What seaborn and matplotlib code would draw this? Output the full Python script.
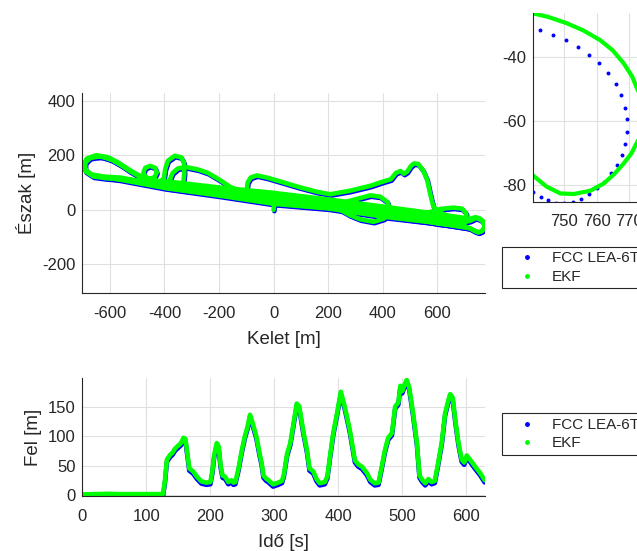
import numpy as np
import pandas as pd
import matplotlib
matplotlib.use('Agg')
import matplotlib.pyplot as plt
import matplotlib.transforms as mtransforms
from matplotlib.lines import Line2D
import seaborn as sns

sns.set_theme(style='white')
plt.rcParams['font.family'] = ['Liberation Sans', 'DejaVu Sans']
plt.rcParams['axes.unicode_minus'] = False

BLUE = '#0000ff'
GREEN = '#00ff00'
INK = '#262626'

# ---------------- trajectory passes (Kelet / Észak, m) ----------------
pass1_x = [0, 2, 10, 200, 400, 600, 690, 721, 740, 756, 768, 774.5, 772, 764, 752, 740, 721, 700,
           600, 400, 200, 0, -200, -400, -560, -620, -665, -690, -695, -685, -660, -625, -590,
           -555, -520, -480, -400, -200, 0, 200, 400, 600]
pass1_y = [0, 18, 42, 20, -5, -32, -38, -33, -27, -32, -42, -58, -68, -77, -83, -78, -68, -64,
           -48, -25, 5, 22, 52, 80, 110, 120, 128, 145, 165, 185, 196, 194, 182,
           162, 140, 120, 100, 75, 52, 28, 5, -22]

pass2_x = [560, 611, 660, 691, 706, 708, 697, 670, 624, 560, 400, 200, 0, -200, -400, -560, -625,
           -670, -690, -690, -672, -635, -598, -562, -527, -495, -474, -454, -436, -428, -434,
           -452, -470, -477, -470, -454, -420, -400, -200, 0, 200, 400, 600, 700]
pass2_y = [-12, 3, 8, 4, -12, -35, -52, -58, -45, -38, -15, 12, 32, 60, 88, 118, 122,
           130, 150, 172, 190, 196, 186, 166, 142, 124, 116, 113, 120, 137, 154,
           161, 154, 137, 120, 113, 103, 105, 82, 62, 38, 12, -15, -30]

pass3_x = [700, 721, 742, 758, 768, 773, 770, 762, 750, 738, 720, 690, 600, 400, 200, 0, -200,
           -400, -420, -402, -397, -387, -362, -338, -328, -327, -331, -335, -200, 0, 200, 400,
           600, 700]
pass3_y = [-45, -40, -30, -36, -45, -58, -70, -79, -82, -78, -68, -60, -50, -5, 20, 42, 68,
           95, 100, 115, 150, 180, 198, 192, 172, 135, 95, 72, 60, 32, 12, -15,
           -40, -58]

pass4_x = [700, 600, 400, 200, 0, -200, -390, -380, -370, -350, -318, -278, -240, -195, -159,
           -110, -24, 100, 200, 300, 400, 600, 700]
pass4_y = [-40, -22, 5, 28, 52, 75, 90, 110, 135, 152, 156, 148, 135, 108, 84,
           64, 46, 30, 20, 8, -2, -28, -45]

pass5_x = [650, 600, 585, 575, 563, 548, 530, 515, 503, 490, 478, 465, 448, 430, 400, 355, 281,
           208, 159, 98, 37, -24, -61, -84, -95, -97, -110, -200, -300, -400, -500, -560, -615,
           -660, -688, -697, -684, -650, -608, -572, -537, -500, -440, -391, -195, 0, 208, 400,
           600, 700]
pass5_y = [-28, -5, 15, 55, 110, 145, 168, 170, 160, 140, 132, 142, 135, 112, 103, 88, 70,
           57, 66, 82, 100, 118, 126, 118, 100, 80, 62, 62, 75, 92, 108, 112, 116,
           122, 140, 165, 188, 200, 193, 175, 152, 128, 103, 80, 55, 24, 6, -22,
           -48, -64]

pass6_x = [-400, -200, 0, 150, 200, 257, 306, 355, 391, 418, 426, 405, 367, 318, 281, 245, 300,
           400, 600, 700]
pass6_y = [85, 58, 30, 18, 15, 27, 40, 53, 48, 28, 0, -32, -44, -35, -20, 0, -8,
           -18, -42, -58]

# ---------------- zoomed detail (east end turn) ----------------
zoom_gps_x = [742.6, 746.6, 750.6, 754.3, 757.6, 760.7, 763.5, 765.9, 767.7, 768.8, 769.4, 769.5,
              768.8, 767.8, 766.3, 764.4, 762.4, 760.1, 757.6, 755.2, 752.7, 750.0, 747.5, 745.1,
              742.8, 740.3]
zoom_gps_y = [-31.4, -33.0, -34.7, -36.9, -39.2, -41.9, -44.8, -48.4, -51.8, -55.7, -59.4, -63.4,
              -67.2, -70.6, -73.6, -76.3, -79.0, -81.0, -82.9, -84.4, -85.2, -85.5, -85.5, -84.7,
              -83.7, -82.1]
zoom_ekf_x = [736.0, 740.3, 745.0, 750.8, 756.0, 761.1, 765.0, 768.4, 771.0, 772.8, 774.2, 774.7,
              774.2, 772.8, 770.8, 768.4, 765.5, 762.2, 758.0, 752.9, 748.8, 744.6, 740.3, 737.0]
zoom_ekf_y = [-25.0, -26.2, -27.3, -29.3, -31.6, -34.6, -37.8, -41.9, -46.0, -50.5, -55.0, -58.5,
              -62.0, -66.0, -70.0, -73.2, -76.5, -79.5, -81.8, -82.8, -82.6, -80.5, -76.9, -73.5]

# ---------------- altitude vs time ----------------
ido = [0, 20, 40, 60, 80, 100, 120, 126, 129, 132, 137, 141, 145, 150, 154, 158, 161, 164, 167,
       173, 179, 186, 194, 200, 203, 206, 210, 213, 216, 219, 223, 228, 233, 236, 239, 244, 249,
       254, 258, 262, 266, 272, 277, 280, 283, 287, 291, 298, 306, 312, 315, 320, 325, 330, 335,
       339, 345, 351, 355, 361, 366, 371, 379, 383, 387, 392, 398, 404, 410, 418, 426, 431, 437,
       445, 450, 457, 463, 468, 473, 478, 484, 489, 494, 497, 500, 504, 507, 511, 517, 523, 527,
       531, 536, 541, 546, 551, 556, 562, 567, 572, 575, 579, 583, 588, 593, 597, 601, 606, 614,
       622, 629]
fel = [1, 1.5, 2, 1.5, 1.5, 1.5, 1.5, 2, 25, 60, 68, 72, 79, 84, 88, 97, 95, 70, 45,
       40, 31, 23, 21, 22, 40, 68, 88, 82, 50, 33, 31, 22, 25, 21, 22, 45, 75,
       100, 115, 136, 122, 99, 70, 55, 33, 28, 25, 18, 21, 24, 35, 70, 88, 121, 155,
       150, 110, 76, 45, 40, 27, 20, 22, 32, 65, 104, 138, 175, 150, 110, 59, 52, 48,
       37, 26, 20, 21, 48, 76, 97, 105, 150, 157, 185, 176, 188, 195, 182, 138, 88, 33,
       26, 20, 27, 22, 24, 53, 90, 138, 160, 171, 165, 127, 88, 60, 55, 67, 60, 48,
       37, 25]

LEG_LABELS = ['FCC LEA-6T', 'EKF']

# ---------------- figure ----------------
W, H = 637, 551
fig = plt.figure(figsize=(W / 100, H / 100), dpi=100)


def fax(l, t, r, b):
    return fig.add_axes([l / W, 1 - b / H, (r - l) / W, (b - t) / H])


def style(ax):
    for s in ['top', 'right']:
        ax.spines[s].set_visible(False)
    for s in ['left', 'bottom']:
        ax.spines[s].set_color(INK)
        ax.spines[s].set_linewidth(0.8)
    ax.tick_params(direction='in', length=3, width=0.8, color=INK, labelcolor=INK,
                   labelsize=12)
    ax.tick_params(axis='y', pad=5)
    ax.tick_params(axis='x', pad=9)
    ax.grid(True, color='#e0e0e0', lw=0.8)
    ax.set_axisbelow(True)


ax1 = fax(82.3, 93.3, 485, 293.3)
ax2 = fax(532.7, 13, 662, 201.7)
ax3 = fax(82.5, 378.3, 484.7, 496.3)

blue_shift = mtransforms.ScaledTranslation(0.6 / 72, -1.0 / 72, fig.dpi_scale_trans)

# main trajectory
passes = [(pass1_x, pass1_y), (pass2_x, pass2_y), (pass3_x, pass3_y),
          (pass4_x, pass4_y), (pass5_x, pass5_y), (pass6_x, pass6_y)]
traj = pd.concat([pd.DataFrame({'kelet': px, 'eszak': py, 'pass': i})
                  for i, (px, py) in enumerate(passes)], ignore_index=True)

sns.lineplot(data=traj, x='kelet', y='eszak', units='pass', estimator=None, sort=False,
             color=BLUE, lw=3.3, ax=ax1, legend=False,
             solid_capstyle='round', solid_joinstyle='round')
for ln in ax1.lines:
    ln.set_transform(ax1.transData + blue_shift)
sns.lineplot(data=traj, x='kelet', y='eszak', units='pass', estimator=None, sort=False,
             color=GREEN, lw=3.3, ax=ax1, legend=False,
             solid_capstyle='round', solid_joinstyle='round')
style(ax1)
ax1.set_xlim(-701, 775)
ax1.set_ylim(-306, 427)
ax1.set_xticks([-600, -400, -200, 0, 200, 400, 600])
ax1.set_yticks([-200, 0, 200, 400])
ax1.set_xlabel('Kelet [m]', fontsize=13.5, color=INK, labelpad=7)
ax1.set_ylabel('Észak [m]', fontsize=13.5, color=INK, labelpad=4)

# zoomed detail
sns.scatterplot(x=zoom_gps_x, y=zoom_gps_y, color=BLUE, s=8, linewidth=0, ax=ax2, legend=False)
sns.lineplot(x=zoom_ekf_x, y=zoom_ekf_y, sort=False, estimator=None, color=GREEN, lw=3.0,
             ax=ax2, legend=False, solid_capstyle='round', solid_joinstyle='round')
style(ax2)
ax2.set_xlim(740.3, 780.2)
ax2.set_ylim(-85.2, -26.1)
ax2.set_xticks([750, 760, 770])
ax2.set_yticks([-80, -60, -40])
ax2.set_xlabel('')
ax2.set_ylabel('')

# altitude
alt_shift = mtransforms.ScaledTranslation(0.0, -1.6 / 72, fig.dpi_scale_trans)
sns.lineplot(x=ido, y=fel, sort=False, estimator=None, color=BLUE, lw=3.3, ax=ax3,
             legend=False, solid_joinstyle='round')
for ln in ax3.lines:
    ln.set_transform(ax3.transData + alt_shift)
sns.lineplot(x=ido, y=fel, sort=False, estimator=None, color=GREEN, lw=3.3, ax=ax3,
             legend=False, solid_joinstyle='round')
style(ax3)
ax3.set_xlim(0, 629)
ax3.set_ylim(-2.2, 197.8)
ax3.set_xticks([0, 100, 200, 300, 400, 500, 600])
ax3.set_yticks([0, 50, 100, 150])
ax3.set_xlabel('Idő [s]', fontsize=13.5, color=INK, labelpad=7)
ax3.set_ylabel('Fel [m]', fontsize=13.5, color=INK, labelpad=4)

# legends
handles = [Line2D([], [], ls='none', marker='o', ms=2.5, color=BLUE),
           Line2D([], [], ls='none', marker='o', ms=2.5, color=GREEN)]
for top in (246.7, 413.3):
    leg = fig.legend(handles, LEG_LABELS, loc='upper left',
                     bbox_to_anchor=(501.7 / W, 1 - top / H), borderaxespad=0,
                     frameon=True, fancybox=False, edgecolor=INK, fontsize=11,
                     borderpad=0.3, labelspacing=0.3, handlelength=2.7,
                     handletextpad=0.3)
    leg.get_frame().set_linewidth(0.8)
    leg.get_frame().set_alpha(None)

fig.savefig('out.png', dpi=100)
